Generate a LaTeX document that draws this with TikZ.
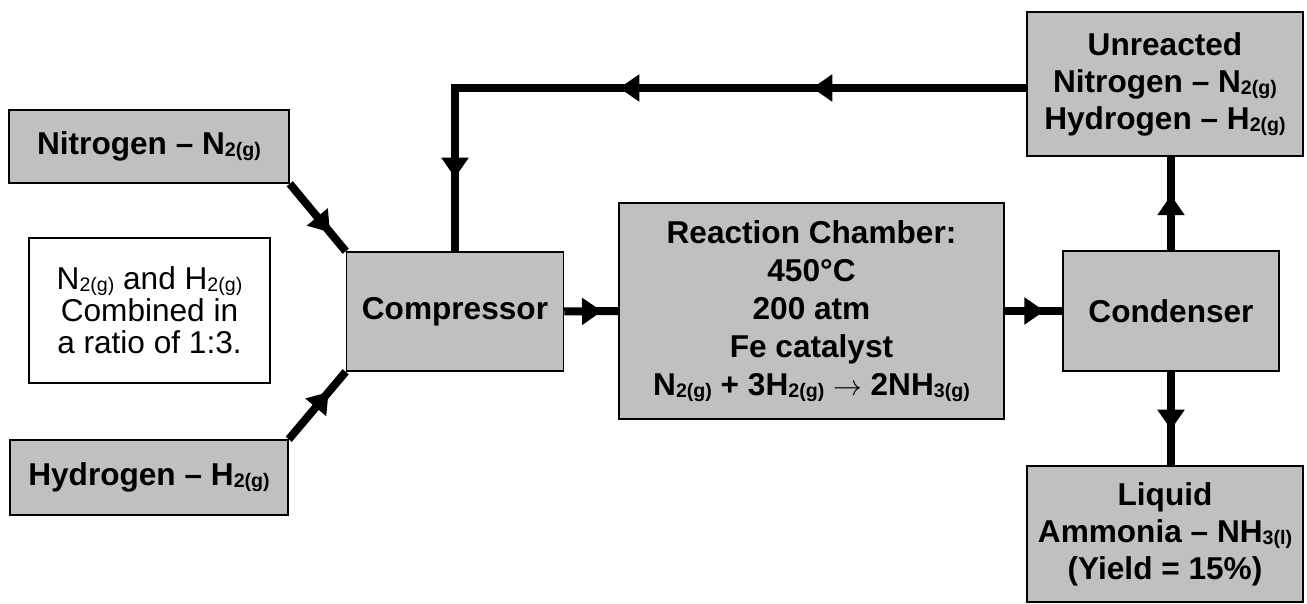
\documentclass[tikz,border=0pt]{standalone}
\usepackage{fontspec}
\setmainfont{Liberation Sans}
\usetikzlibrary{arrows.meta,decorations.markings,backgrounds}
\definecolor{boxgray}{HTML}{C0C0C0}
\newcommand{\subs}[1]{\raisebox{-1pt}{\fontsize{9.8}{10}\selectfont #1}}
\begin{document}
\begin{tikzpicture}[x=0.5pt,y=-0.5pt,
  box/.style={draw=black, line width=0.75pt, fill=boxgray, inner sep=0pt, align=center,
    font=\bfseries\fontsize{15.8}{18.5}\selectfont},
  notebox/.style={draw=black, line width=0.75pt, fill=white, inner sep=0pt, align=center,
    font=\fontsize{15.8}{16}\selectfont},
  flow/.style={line width=4pt, draw=black},
  ahead/.style={Triangle[length=10pt,width=13pt]},
  midarrow/.style={postaction={decorate}, decoration={markings,
    mark=at position #1 with {\arrow{Triangle[length=10pt,width=13pt]}}}}]
\useasboundingbox (0,0) rectangle (1307,604);

\node[box, minimum width=140pt, minimum height=36.5pt] (nit) at (149,146.5) {Nitrogen -- N\subs{2(g)}};
\node[box, minimum width=139pt, minimum height=37.5pt] (hyd) at (149,477.5) {Hydrogen -- H\subs{2(g)}};
\node[notebox, minimum width=120.5pt, minimum height=72.5pt] (note) at (149.5,310.5)
  {N\subs{2(g)} and H\subs{2(g)}\\Combined in\\a ratio of 1:3.};
\node[box, minimum width=108.5pt, minimum height=59.5pt] (comp) at (455,311.5) {Compressor};
\node[box, minimum width=192.5pt, minimum height=108pt, font=\bfseries\fontsize{15.8}{19}\selectfont] (react) at (811.5,311)
  {Reaction Chamber:\\450\textdegree C\\200 atm\\Fe catalyst\\N\subs{2(g)} + 3H\subs{2(g)} $\rightarrow$ 2NH\subs{3(g)}};
\node[box, minimum width=108pt, minimum height=60pt] (cond) at (1171,311) {Condenser};
\node[box, minimum width=138pt, minimum height=72pt] (unr) at (1165,84)
  {Unreacted\\Nitrogen -- N\subs{2(g)}\\Hydrogen -- H\subs{2(g)}};
\node[box, minimum width=138pt, minimum height=68pt] (liq) at (1165,534)
  {Liquid\\Ammonia -- NH\subs{3(l)}\\(Yield = 15\%)};

\coordinate (corner) at (455,88);

\begin{scope}[on background layer]
  \draw[flow, midarrow=0.72] (nit.south east) -- (comp.north west);
  \draw[flow, midarrow=0.70] (hyd.north east) -- (comp.south west);
  \draw[flow, midarrow=0.70] (comp.east) -- (react.west);
  \draw[flow, midarrow=0.69] (react.east) -- (cond.west);
  \draw[flow, midarrow=0.59] (cond.north) -- (cond.north |- unr.south);
  \draw[flow, midarrow=0.62] (cond.south) -- (cond.south |- liq.north);
  \draw[flow, line join=miter, postaction={decorate}, decoration={markings,
      mark=at position 107pt with {\arrow{Triangle[length=10pt,width=13pt]}},
      mark=at position 203.5pt with {\arrow{Triangle[length=10pt,width=13pt]}},
      mark=at position 330.5pt with {\arrow{Triangle[length=10pt,width=13pt]}}}]
    (corner -| unr.west) -- (corner) -- (corner |- comp.north);
\end{scope}
\end{tikzpicture}
\end{document}
